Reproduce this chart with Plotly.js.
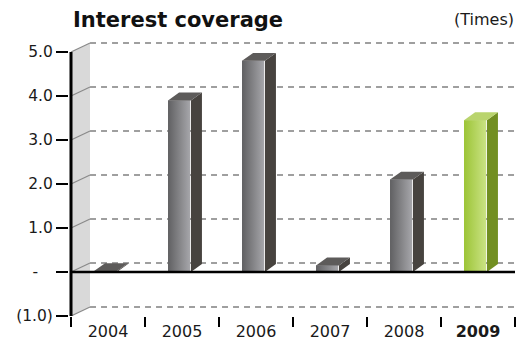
<!DOCTYPE html>
<html>
<head>
<meta charset="utf-8">
<script src="https://cdn.plot.ly/plotly-3.0.1.min.js"></script>
<style>html,body{margin:0;padding:0;background:#fff;}#chart{width:522px;height:342px;}</style>
</head>
<body>
<div id="chart"></div>
<script>
// ---- data ----
const years = ['2004', '2005', '2006', '2007', '2008', '2009'];
const coverage = [0.02, 3.9, 4.8, 0.15, 2.1, 3.45];
const yTickVals = [-1, 0, 1, 2, 3, 4, 5];
const yTickText = ['(1.0)', '-\u00A0\u00A0\u00A0', '1.0', '2.0', '3.0', '4.0', '5.0'];
const chartTitle = 'Interest coverage';
const unitLabel = '(Times)';

// ---- geometry (data units) ----
const FONT = 'DejaVu Sans';
const barW = 0.297, barOff = -0.04;      // front face width / offset
const sideDX = 0.149, sideDY = 0.18;     // bar depth
const backDX = 0.257, backDY = 0.205;    // back-wall offset
const gap = 0.012;
const yMin = -1, yMax = 5;
const last = years.length - 1;
const xs = years.map((_, i) => i);
const isHi = i => i === last;

const grayFront = [[0, '#606062'], [1, '#a6a6aa']];
const greenFront = [[0, '#9cc436'], [1, '#cae384']];
const graySide = '#47433f', greenSide = '#728f22';
const grayTop = '#5d5b5a', greenTop = '#b9d46d';

const traces = [];
// front faces as bars
traces.push({
  type: 'bar', x: xs, y: coverage, width: barW, offset: barOff - barW / 2,
  marker: {color: xs.map(i => isHi(i) ? '#b2d25a' : '#838386'), line: {width: 0}},
  hoverinfo: 'skip', showlegend: false
});
// gradient overlays for front faces
coverage.forEach((v, i) => {
  const xl = i + barOff - barW / 2, xr = i + barOff + barW / 2;
  traces.push({
    type: 'scatter', mode: 'none', fill: 'toself',
    x: [xl, xr, xr, xl, xl], y: [0, 0, v, v, 0],
    fillcolor: isHi(i) ? '#b2d25a' : '#838386',
    fillgradient: {type: 'horizontal', colorscale: isHi(i) ? greenFront : grayFront},
    hoverinfo: 'skip', showlegend: false
  });
});
// side and top faces
function faces(pick) {
  const side = {x: [], y: []}, top = {x: [], y: []};
  coverage.forEach((v, i) => {
    if (!pick(i)) return;
    const xl = i + barOff - barW / 2, xr = i + barOff + barW / 2 + gap;
    side.x.push(xr, xr, xr + sideDX, xr + sideDX, xr, null);
    side.y.push(0, v, v + sideDY, sideDY, 0, null);
    top.x.push(xl, xr, xr + sideDX, xl + sideDX, xl, null);
    top.y.push(v, v, v + sideDY, v + sideDY, v, null);
  });
  return {side, top};
}
[[i => !isHi(i), graySide, grayTop], [isHi, greenSide, greenTop]].forEach(([pick, sc, tc]) => {
  const f = faces(pick);
  traces.push({type: 'scatter', mode: 'none', fill: 'toself', x: f.side.x, y: f.side.y,
    fillcolor: sc, hoverinfo: 'skip', showlegend: false});
  traces.push({type: 'scatter', mode: 'none', fill: 'toself', x: f.top.x, y: f.top.y,
    fillcolor: tc, hoverinfo: 'skip', showlegend: false});
});

// ---- shapes: wall, back gridlines, axis, zero line ----
const x0 = -0.5, x1 = last + 0.5;
const shapes = [];
shapes.push({type: 'path', xref: 'x', yref: 'y', layer: 'below',
  path: `M${x0},${yMin} L${x0},${yMax} L${x0 + backDX},${yMax + backDY} L${x0 + backDX},${yMin + backDY} Z`,
  fillcolor: '#d9d9d9', line: {width: 0}});
yTickVals.forEach(v => {
  shapes.push({type: 'line', xref: 'x', yref: 'y', layer: 'below',
    x0: x0 + backDX, x1: x1, y0: v + backDY, y1: v + backDY,
    line: {color: '#808080', width: 1.5, dash: '6px,5px'}});
  shapes.push({type: 'line', xref: 'x', yref: 'y', layer: 'below',
    x0: x0, x1: x0 + backDX, y0: v, y1: v + backDY,
    line: {color: '#8a8a8a', width: 1.2}});
});
shapes.push({type: 'line', xref: 'x', yref: 'y', layer: 'above',
  x0: x0, x1: x1, y0: 0, y1: 0, line: {color: '#000', width: 2.5}});
shapes.push({type: 'line', xref: 'x', yref: 'y', layer: 'above',
  x0: x0, x1: x0, y0: yMin, y1: yMax, line: {color: '#000', width: 3}});

const boundaries = xs.map(i => i - 0.5).concat([last + 0.5]);

const layout = {
  width: 522, height: 342,
  margin: {l: 69, r: 5, t: 40, b: 26, pad: 0},
  paper_bgcolor: '#fff', plot_bgcolor: '#fff',
  showlegend: false,
  title: {text: '<b>' + chartTitle + '</b>', font: {family: FONT, size: 21, color: '#111'},
    x: 73 / 522, xref: 'container', xanchor: 'left', y: 1 - 20 / 342, yref: 'container', yanchor: 'middle'},
  xaxis: {
    range: [-0.5 - 2 / 74, last + 0.5 + 2 / 74],
    tickmode: 'array', tickvals: xs,
    ticktext: years.map((y, i) => isHi(i) ? '<b>' + y + '</b>' : y),
    ticks: 'outside', ticklen: 1, tickcolor: 'rgba(0,0,0,0)',
    minor: {tickmode: 'array', tickvals: boundaries, ticks: 'outside', ticklen: 10, tickwidth: 2.5, tickcolor: '#000', showgrid: false},
    tickfont: {family: FONT, size: 16, color: '#1a1a1a'},
    showgrid: false, zeroline: false, showline: false, fixedrange: true
  },
  yaxis: {
    range: [yMin, yMin + 276 / 44],
    tickmode: 'array', tickvals: yTickVals, ticktext: yTickText,
    ticks: 'outside', ticklen: 12, tickwidth: 2.5, tickcolor: '#000',
    tickfont: {family: FONT, size: 15.5, color: '#1a1a1a'},
    showgrid: false, zeroline: false, showline: false, fixedrange: true
  },
  shapes: shapes,
  annotations: [{text: unitLabel, xref: 'paper', yref: 'paper', x: 1, y: (316 - 20) / 276,
    xanchor: 'right', yanchor: 'middle', xshift: -1, showarrow: false,
    font: {family: FONT, size: 16, color: '#1a1a1a'}}]
};

Plotly.newPlot('chart', traces, layout, {staticPlot: true, displayModeBar: false});
</script>
</body>
</html>
